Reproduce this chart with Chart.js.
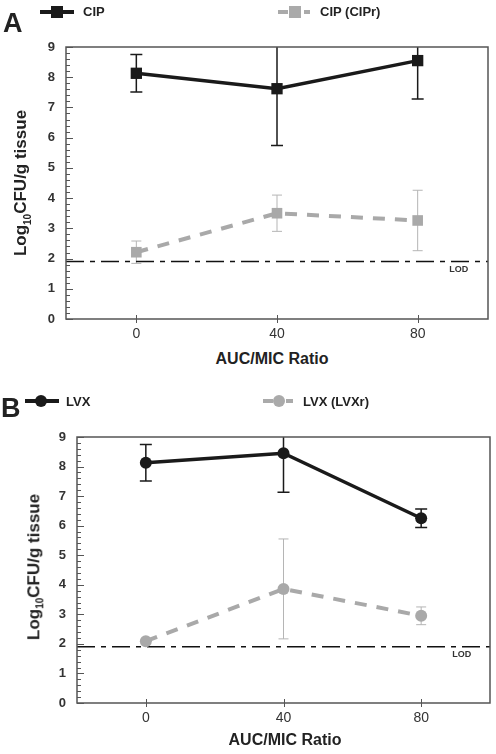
<!DOCTYPE html>
<html>
<head>
<meta charset="utf-8">
<script src="https://cdn.jsdelivr.net/npm/chart.js@4.4.1/dist/chart.umd.min.js"></script>
<style>
  body { margin: 0; background: #fff; width: 496px; height: 754px; position: relative; overflow: hidden;
         font-family: "Liberation Sans", Arial, sans-serif; color: #222; }
  .wrap { position: absolute; left: 0; width: 496px; }
  .wrap canvas { position: absolute; left: 0; top: 0; }
  .txt { position: absolute; font-weight: bold; white-space: nowrap; }
  .letter { font-size: 27px; }
  .leg { font-size: 13px; }
  .xt { font-size: 16px; transform: translateX(-50%); }
  .yt { font-size: 17px; transform: translate(-50%, -50%) rotate(-90deg); }
  .yt sub { font-size: 10px; }
  svg { position: absolute; }
</style>
</head>
<body>

<div class="wrap" id="pA" style="top:0;height:350px"><canvas id="chartA" width="496" height="350"></canvas></div>
<div class="wrap" id="pB" style="top:380px;height:374px"><canvas id="chartB" width="496" height="374"></canvas></div>

<!-- panel A texts -->
<div class="txt letter" style="left:3px;top:8px">A</div>
<svg style="left:38px;top:4px" width="38" height="16">
  <line x1="2" y1="8" x2="36" y2="8" stroke="#1a1a1a" stroke-width="4"/>
  <rect x="13" y="2" width="12" height="12" fill="#1a1a1a"/>
</svg>
<div class="txt leg" style="left:83px;top:4px">CIP</div>
<svg style="left:276px;top:4px" width="38" height="16">
  <line x1="2" y1="8" x2="12" y2="8" stroke="#aaa" stroke-width="4"/>
  <line x1="28" y1="8" x2="34" y2="8" stroke="#aaa" stroke-width="4"/>
  <rect x="13" y="2" width="12" height="12" fill="#aaa"/>
</svg>
<div class="txt leg" style="left:320px;top:4px">CIP (CIPr)</div>
<div class="txt yt" style="left:22px;top:183px">Log<sub>10</sub>CFU/g tissue</div>
<div class="txt xt" style="left:272px;top:350px">AUC/MIC Ratio</div>

<!-- panel B texts -->
<div class="txt letter" style="left:1px;top:393px">B</div>
<svg style="left:23px;top:393px" width="38" height="16">
  <line x1="2" y1="8" x2="36" y2="8" stroke="#1a1a1a" stroke-width="4"/>
  <circle cx="18" cy="8" r="6" fill="#1a1a1a"/>
</svg>
<div class="txt leg" style="left:66px;top:394px">LVX</div>
<svg style="left:261px;top:393px" width="38" height="16">
  <line x1="2" y1="8" x2="12" y2="8" stroke="#aaa" stroke-width="4"/>
  <line x1="25" y1="8" x2="32" y2="8" stroke="#aaa" stroke-width="4"/>
  <circle cx="18" cy="8" r="6" fill="#aaa"/>
</svg>
<div class="txt leg" style="left:303px;top:394px">LVX (LVXr)</div>
<div class="txt yt" style="left:35px;top:567px">Log<sub>10</sub>CFU/g tissue</div>
<div class="txt xt" style="left:285px;top:731px">AUC/MIC Ratio</div>

<script>
// AUC/MIC ratios (x categories)
const aucMic = [0, 40, 80];
const xTicks = [0, 40, 80];
const yTicks = [0, 1, 2, 3, 4, 5, 6, 7, 8, 9];
const lod = 1.9;

// Panel A - ciprofloxacin
const cipMean = [8.13, 7.62, 8.55];
const cipSd = [0.62, 1.88, 1.27];
const ciprMean = [2.21, 3.5, 3.26];
const ciprSd = [0.37, 0.6, 1.0];

// Panel B - levofloxacin
const lvxMean = [8.13, 8.45, 6.25];
const lvxSd = [0.62, 1.32, 0.31];
const lvxrMean = [2.09, 3.86, 2.95];
const lvxrSd = [0.04, 1.69, 0.3];

const BLACK = '#1a1a1a';
const GRAY = '#a9a9a9';

const extras = {
  id: 'extras',
  beforeDatasetsDraw(chart, args, opts) {
    const { ctx, chartArea: a, scales: { x, y } } = chart;
    ctx.save();
    ctx.beginPath();
    ctx.rect(a.left, a.top, a.right - a.left, a.bottom - a.top);
    ctx.clip();
    opts.errors.forEach(e => {
      ctx.strokeStyle = e.color;
      ctx.lineWidth = e.width;
      e.mean.forEach((m, i) => {
        const px = x.getPixelForValue(aucMic[i]);
        const hi = y.getPixelForValue(m + e.sd[i]);
        const lo = y.getPixelForValue(m - e.sd[i]);
        ctx.beginPath();
        ctx.moveTo(px, hi); ctx.lineTo(px, lo);
        ctx.moveTo(px - e.cap, hi); ctx.lineTo(px + e.cap, hi);
        ctx.moveTo(px - e.cap, lo); ctx.lineTo(px + e.cap, lo);
        ctx.stroke();
      });
    });
    ctx.restore();
  },
  afterDraw(chart) {
    const { ctx, chartArea: a, scales: { x, y } } = chart;
    ctx.save();
    // frame
    ctx.strokeStyle = '#555';
    ctx.lineWidth = 1.5;
    ctx.strokeRect(a.left, a.top, a.right - a.left, a.bottom - a.top);
    // y ticks (inward, 4 minor between majors)
    ctx.lineWidth = 1;
    for (let i = 0; i <= 45; i++) {
      const py = Math.round(y.getPixelForValue(i / 5)) + 0.5;
      ctx.beginPath();
      ctx.moveTo(a.left, py);
      ctx.lineTo(a.left + (i % 5 === 0 ? 7 : 4), py);
      ctx.stroke();
    }
    // x ticks crossing the axis
    xTicks.forEach(v => {
      const px = Math.round(x.getPixelForValue(v)) + 0.5;
      ctx.beginPath();
      ctx.moveTo(px, a.bottom - 4);
      ctx.lineTo(px, a.bottom + 4);
      ctx.stroke();
    });
    // LOD label
    ctx.fillStyle = '#333';
    ctx.font = 'bold 9px "Liberation Sans", Arial, sans-serif';
    ctx.textAlign = 'left';
    ctx.textBaseline = 'middle';
    ctx.fillText('LOD', x.getPixelForValue(89), y.getPixelForValue(lod) + 8);
    ctx.restore();
  }
};

function makeChart(id, yAxisWidth, padTop, padBottom, blackMean, blackSd, grayMean, graySd, pointStyle, rBlack, rGray) {
  const toPts = arr => arr.map((v, i) => ({ x: aucMic[i], y: v }));
  return new Chart(document.getElementById(id), {
    type: 'line',
    data: {
      datasets: [
        {
          data: toPts(blackMean),
          borderColor: BLACK, backgroundColor: BLACK,
          borderWidth: 3.5, pointStyle: pointStyle, pointRadius: rBlack, pointBorderWidth: 0
        },
        {
          data: toPts(grayMean),
          borderColor: GRAY, backgroundColor: GRAY,
          borderWidth: 4, borderDash: [12, 10], pointStyle: pointStyle, pointRadius: rGray, pointBorderWidth: 0
        },
        {
          data: [{ x: -20, y: lod }, { x: 100, y: lod }],
          borderColor: '#111', borderWidth: 1.5, borderDash: [18, 6, 5, 6], pointRadius: 0
        }
      ]
    },
    options: {
      responsive: false,
      animation: false,
      layout: { padding: { top: padTop, bottom: padBottom, right: 5, left: 0 } },
      plugins: {
        legend: { display: false },
        tooltip: { enabled: false },
        extras: {
          errors: [
            { mean: grayMean, sd: graySd, color: '#b5b5b5', width: 1, cap: 5 },
            { mean: blackMean, sd: blackSd, color: BLACK, width: 1.5, cap: 6 }
          ]
        }
      },
      scales: {
        x: {
          type: 'linear', min: -20, max: 100,
          grid: { display: false, drawTicks: false },
          border: { display: false },
          afterBuildTicks: s => { s.ticks = xTicks.map(v => ({ value: v })); },
          afterFit: s => { s.height = 31; },
          ticks: { padding: 7, color: '#333', font: { family: '"Liberation Sans", Arial', size: 14 } }
        },
        y: {
          min: 0, max: 9,
          grid: { display: false, drawTicks: false },
          border: { display: false },
          afterBuildTicks: s => { s.ticks = yTicks.map(v => ({ value: v })); },
          afterFit: s => { s.width = yAxisWidth; },
          ticks: { padding: 11, color: '#333', font: { family: '"Liberation Sans", Arial', size: 13, weight: 'bold' } }
        }
      }
    },
    plugins: [extras]
  });
}

makeChart('chartA', 66, 47, 0, cipMean, cipSd, ciprMean, ciprSd, 'rect', 8, 7.5);
makeChart('chartB', 77, 57, 20, lvxMean, lvxSd, lvxrMean, lvxrSd, 'circle', 6, 6);
</script>
</body>
</html>
